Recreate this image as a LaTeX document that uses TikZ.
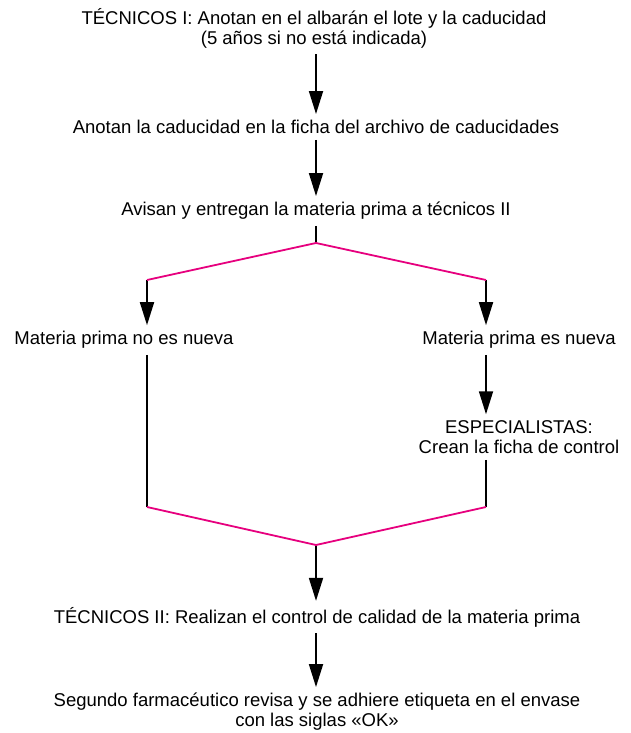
\documentclass[tikz,border=0pt]{standalone}
\usepackage{fontspec}
\setmainfont{Liberation Sans}
\usetikzlibrary{arrows.meta}
\definecolor{mag}{RGB}{230,0,126}
\tikzset{
  txt/.style={font=\fontsize{18.5}{20}\selectfont, align=center, inner sep=6pt},
  arr/.style={draw=black, line width=1.8pt, -{Triangle[length=23pt,width=14pt]}},
  blk/.style={draw=black, line width=1.8pt},
  mline/.style={draw=mag, line width=1.8pt, line join=round}
}
\begin{document}
\begin{tikzpicture}[x=1pt,y=-1pt]
\useasboundingbox (0,0) rectangle (631,733);
\node[txt] (t1) at (314,28) {TÉCNICOS I: Anotan en el albarán el lote y la caducidad\\(5 años si no está indicada)};
\node[txt] (t2) at (316,127) {Anotan la caducidad en la ficha del archivo de caducidades};
\node[txt] (t3) at (316,211) {Avisan y entregan la materia prima a técnicos II};
\node[txt] (l1) at (124,340) {Materia prima no es nueva};
\node[txt] (r1) at (519,340) {Materia prima es nueva};
\node[txt] (r2) at (519,437) {ESPECIALISTAS:\\Crean la ficha de control};
\node[txt] (b1) at (317,617) {TÉCNICOS II: Realizan el control de calidad de la materia prima};
\node[txt] (b2) at (317,712) {Segundo farmacéutico revisa y se adhiere etiqueta en el envase\\con las siglas «OK»};
\coordinate (jt) at (316,243);
\coordinate (lc) at (147,280);
\coordinate (rc) at (486,280);
\coordinate (lb) at (147,507);
\coordinate (rb) at (486,507);
\coordinate (jb) at (316,545);
\draw[arr] (t1.south -| jt) -- (t2.north -| jt);
\draw[arr] (t2.south -| jt) -- (t3.north -| jt);
\draw[blk] (t3.south -| jt) -- (jt);
\draw[arr] (lc) -- (l1.north -| lc);
\draw[arr] (rc) -- (r1.north -| rc);
\draw[blk] (l1.south -| lc) -- (lb);
\draw[arr] (r1.south -| rc) -- (r2.north -| rc);
\draw[blk] (r2.south -| rc) -- (rb);
\draw[arr] (jb) -- (b1.north -| jb);
\draw[arr] (b1.south -| jb) -- (b2.north -| jb);
\draw[mline] (lc) -- (jt) -- (rc);
\draw[mline] (lb) -- (jb) -- (rb);
\end{tikzpicture}
\end{document}
